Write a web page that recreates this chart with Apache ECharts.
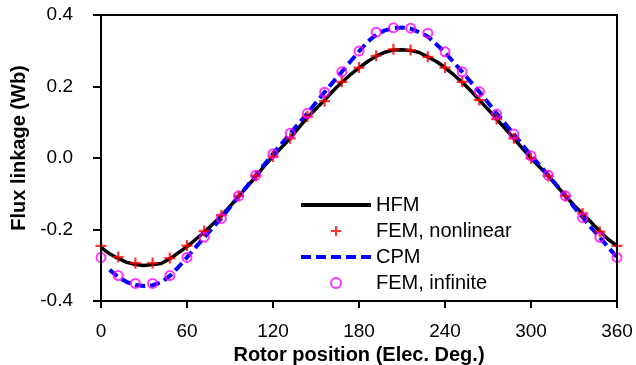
<!DOCTYPE html>
<html>
<head>
<meta charset="utf-8">
<script src="https://cdn.jsdelivr.net/npm/echarts@6/dist/echarts.min.js"></script>
<style>
html,body{margin:0;padding:0;background:#fff;}
#chart{width:636px;height:365px;background:#fff;}
</style>
</head>
<body>
<div id="chart"></div>
<script>
// Rotor position (deg) for the continuous models
const hfmDeg = [0,6,12,18,24,30,36,42,48,54,60,66,72,78,84,90,96,102,108,114,120,126,132,138,144,150,156,162,168,174,180,186,192,198,204,210,216,222,228,234,240,246,252,258,264,270,276,282,288,294,300,306,312,318,324,330,336,342,348,354,360];
const hfmVal = [-0.250,-0.268,-0.281,-0.292,-0.298,-0.301,-0.298,-0.295,-0.282,-0.265,-0.248,-0.228,-0.207,-0.185,-0.162,-0.135,-0.108,-0.080,-0.052,-0.022,0.005,0.030,0.055,0.085,0.113,0.138,0.162,0.188,0.212,0.233,0.252,0.270,0.285,0.296,0.302,0.303,0.301,0.295,0.283,0.270,0.253,0.233,0.212,0.188,0.162,0.136,0.109,0.082,0.055,0.027,0.000,-0.025,-0.050,-0.078,-0.106,-0.132,-0.156,-0.180,-0.205,-0.228,-0.246];

const cpmDeg = [6,12,18,24,30,36,42,48,54,60,66,72,78,84,90,96,102,108,114,120,126,132,138,144,150,156,162,168,174,180,186,192,198,204,210,216,222,228,234,240,246,252,258,264,270,276,282,288,294,300,306,312,318,324,330,336,342,348,354,360];
const cpmVal = [-0.313,-0.333,-0.347,-0.355,-0.358,-0.356,-0.348,-0.330,-0.305,-0.278,-0.250,-0.222,-0.195,-0.168,-0.138,-0.108,-0.078,-0.048,-0.018,0.012,0.040,0.069,0.097,0.125,0.155,0.184,0.213,0.241,0.270,0.298,0.325,0.345,0.357,0.363,0.365,0.362,0.352,0.340,0.318,0.295,0.268,0.241,0.213,0.185,0.155,0.125,0.096,0.067,0.037,0.007,-0.020,-0.048,-0.077,-0.106,-0.137,-0.166,-0.195,-0.222,-0.250,-0.278];

// FEM sample positions (deg)
const femDeg = [0,12,24,36,48,60,72,84,96,108,120,132,144,156,168,180,192,204,216,228,240,252,264,276,288,300,312,324,336,348,360];
const femNonlinear = [-0.246,-0.277,-0.294,-0.294,-0.280,-0.245,-0.204,-0.160,-0.106,-0.050,0.004,0.055,0.116,0.159,0.213,0.253,0.286,0.304,0.302,0.283,0.253,0.213,0.162,0.109,0.055,-0.001,-0.050,-0.106,-0.155,-0.206,-0.246];
const femInfinite = [-0.278,-0.329,-0.351,-0.351,-0.329,-0.278,-0.222,-0.169,-0.106,-0.048,0.012,0.069,0.125,0.184,0.241,0.299,0.352,0.364,0.363,0.349,0.297,0.241,0.185,0.123,0.067,0.006,-0.048,-0.106,-0.167,-0.222,-0.278];

const seriesNames = ['HFM','FEM, nonlinear','CPM','FEM, infinite'];
const xTicks = {min:0, max:360, interval:60};
const yTicks = {min:-0.4, max:0.4, interval:0.2};

const zip = (a,b) => a.map((v,i)=>[v,b[i]]);
const FONT = 'Liberation Sans, Arial, sans-serif';
const plusPath = 'path://M4,0H6V4H10V6H6V10H4V6H0V4H4Z';
const NONE = 'rgba(0,0,0,0)';

const chart = echarts.init(document.getElementById('chart'), null, {renderer:'canvas'});
chart.setOption({
  animation:false,
  grid:{left:101, top:15, right:19, bottom:64, outerBoundsMode:'none',
        show:true, backgroundColor:'#ffffff', borderColor:'#000000', borderWidth:2},
  legend:{
    orient:'vertical', left:294, top:190, itemWidth:70, itemHeight:10, itemGap:6,
    data:seriesNames,
    lineStyle:{width:4},
    textStyle:{fontFamily:FONT, fontSize:20, color:'#000', lineHeight:20}
  },
  xAxis:{
    type:'value', min:xTicks.min, max:xTicks.max, interval:xTicks.interval,
    name:'Rotor position (Elec. Deg.)', nameLocation:'middle', nameGap:37,
    nameTextStyle:{fontFamily:FONT, fontSize:20, fontWeight:'bold', color:'#000'},
    axisLine:{show:true, onZero:false, lineStyle:{color:'#000', width:2}},
    axisTick:{show:true, inside:false, length:7, lineStyle:{color:'#000', width:2}},
    axisLabel:{fontFamily:FONT, fontSize:19, color:'#000', margin:21},
    splitLine:{show:false}
  },
  yAxis:{
    type:'value', min:yTicks.min, max:yTicks.max, interval:yTicks.interval,
    name:'Flux linkage (Wb)', nameLocation:'middle', nameGap:65,
    nameTextStyle:{fontFamily:FONT, fontSize:20, fontWeight:'bold', color:'#000', padding:[0,0,0,20]},
    axisLine:{show:true, onZero:false, lineStyle:{color:'#000', width:2}},
    axisTick:{show:true, inside:false, length:8, lineStyle:{color:'#000', width:2}},
    axisLabel:{fontFamily:FONT, fontSize:19, color:'#000', margin:28, formatter:v=>v.toFixed(1)},
    splitLine:{show:false}
  },
  series:[
    {name:seriesNames[0], type:'line', data:zip(hfmDeg,hfmVal), symbol:'none', z:2,
     lineStyle:{color:'#000', width:3.5}, itemStyle:{color:NONE}},
    {name:seriesNames[1], type:'scatter', data:zip(femDeg,femNonlinear), symbol:plusPath, symbolSize:11, z:4,
     itemStyle:{color:'#FF0000'}},
    {name:seriesNames[2], type:'line', data:zip(cpmDeg,cpmVal), symbol:'none', z:3,
     lineStyle:{color:'#0000FF', width:4, type:[10,5]}, itemStyle:{color:NONE}},
    {name:seriesNames[3], type:'scatter', data:zip(femDeg,femInfinite), symbol:'circle', symbolSize:9, z:5,
     itemStyle:{color:NONE, borderColor:'#FF00FF', borderWidth:2}}
  ]
});

// Plot-area frame, located through the axes' own scales
const pTL = chart.convertToPixel({xAxisIndex:0, yAxisIndex:0}, [xTicks.min, yTicks.max]);
const pBR = chart.convertToPixel({xAxisIndex:0, yAxisIndex:0}, [xTicks.max, yTicks.min]);
if (pTL && pBR) {
  chart.setOption({
    graphic:[{
      type:'rect', z:100, silent:true,
      shape:{x:pTL[0], y:pTL[1], width:pBR[0]-pTL[0], height:pBR[1]-pTL[1]},
      style:{stroke:'#000000', lineWidth:2, fill:'rgba(0,0,0,0)'}
    }]
  });
}
</script>
</body>
</html>
